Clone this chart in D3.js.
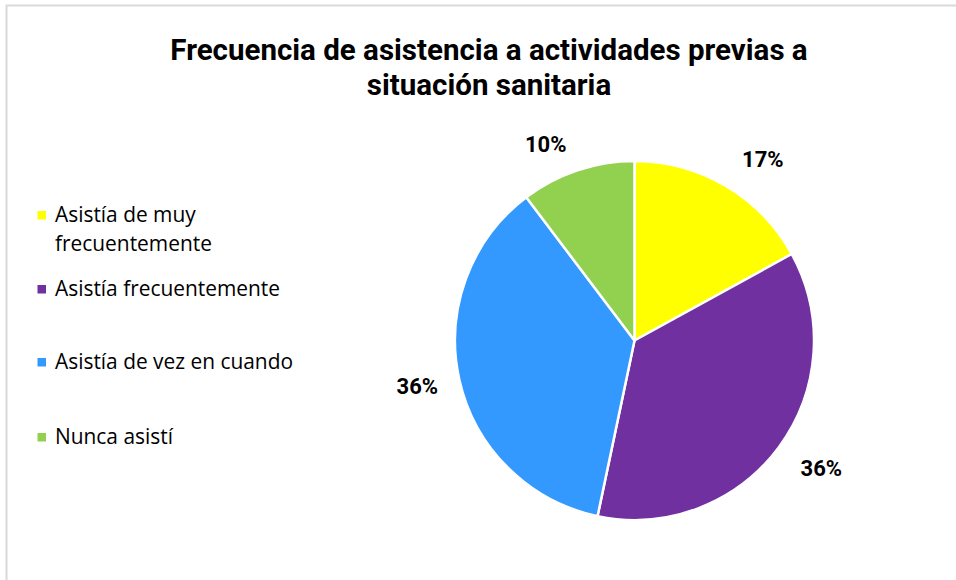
<!DOCTYPE html>
<html>
<head>
<meta charset="utf-8">
<script src="https://cdn.jsdelivr.net/npm/d3@7"></script>
<style>
  body { margin: 0; background: #fff; }
  svg { display: block; }
</style>
</head>
<body>
<div id="target"></div>
<script>
const categories = ["Asistía de muy frecuentemente", "Asistía frecuentemente", "Asistía de vez en cuando", "Nunca asistí"]
const legendLines = [["Asistía de muy", "frecuentemente"], ["Asistía frecuentemente"], ["Asistía de vez en cuando"], ["Nunca asistí"]]
const values = [17, 36.3, 36.4, 10.3]
const colors = ["#ffff00", "#7030a0", "#3399ff", "#92d050"]
const titleLines = ["Frecuencia de asistencia a actividades previas a", "situación sanitaria"]

const width = 956
const height = 580

const svg = d3.select("#target").append("svg")
    .attr("width", width)
    .attr("height", height)

//Border
svg.append("rect")
    .attr("x", 6.5)
    .attr("y", 5.5)
    .attr("width", 1200)
    .attr("height", 1200)
    .attr("fill", "none")
    .attr("stroke", "#d9d9d9")
    .attr("stroke-width", 2)

//Title
svg.append("text")
    .attr("text-anchor", "middle")
    .attr("font-family", "Roboto")
    .attr("font-weight", "bold")
    .attr("font-size", 29.5)
    .attr("fill", "#000")
    .selectAll("tspan")
    .data(titleLines)
    .enter()
    .append("tspan")
    .attr("x", 489)
    .attr("y", (d, i) => 60 + i * 35)
    .text(d => d)

//Pie
const cx = 634.5
const cy = 340.5
const radius = 179.5

const pie = d3.pie()
    .sort(null)
    .value(d => d)

const color = d3.scaleOrdinal()
    .domain(categories)
    .range(colors)

const arcs = pie(values)

const pieChart = svg.append("g")
    .attr("transform", "translate(" + cx + "," + cy + ")")

pieChart.selectAll("path")
    .data(arcs)
    .enter()
    .append("path")
    .attr("d", d3.arc().innerRadius(0).outerRadius(radius))
    .attr("fill", (d, i) => color(categories[i]))
    .attr("stroke", "#fff")
    .attr("stroke-width", 2.5)
    .attr("stroke-linejoin", "round")

//Labels (best fit nudges)
const total = d3.sum(values)
const labelArc = d3.arc().innerRadius(radius * 1.24).outerRadius(radius * 1.24)
const labelNudge = [[15, 10], [8, -5], [0, -3], [-18, 15]]

pieChart.selectAll("text")
    .data(arcs)
    .enter()
    .append("text")
    .attr("transform", (d, i) => {
        const [x, y] = labelArc.centroid(d)
        return "translate(" + (x + labelNudge[i][0]) + "," + (y + labelNudge[i][1]) + ")"
    })
    .attr("text-anchor", "middle")
    .attr("dy", "0.36em")
    .attr("font-family", "Roboto")
    .attr("font-weight", "bold")
    .attr("font-size", 22)
    .attr("fill", "#000")
    .text(d => Math.round(d.value / total * 100) + "%")

//Legend
const legendY = [215, 289, 362, 437]
const legend = svg.append("g")

const items = legend.selectAll("g")
    .data(categories)
    .enter()
    .append("g")
    .attr("transform", (d, i) => "translate(37," + legendY[i] + ")")

items.append("rect")
    .attr("x", 0.5)
    .attr("y", -4)
    .attr("width", 8.5)
    .attr("height", 8.5)
    .attr("fill", d => color(d))

items.append("text")
    .attr("font-family", "Open Sans")
    .attr("font-size", 20.9)
    .attr("fill", "#000")
    .selectAll("tspan")
    .data((d, i) => legendLines[i])
    .enter()
    .append("tspan")
    .attr("x", 18)
    .attr("y", (d, i) => 7 + i * 29)
    .text(d => d)
</script>
</body>
</html>
